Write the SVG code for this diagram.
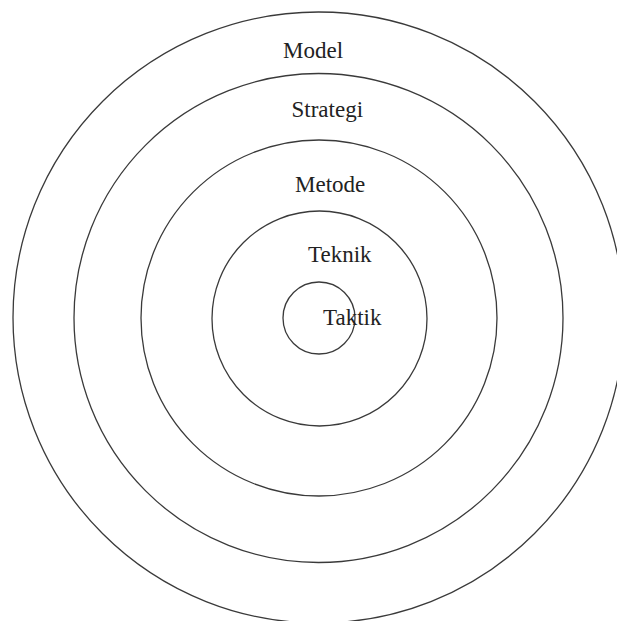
<svg xmlns="http://www.w3.org/2000/svg" width="617" height="621" viewBox="0 0 617 621">
<style>
.ring{fill:none;stroke:#3a3a3a;stroke-width:1.3}
.lbl{font-family:"Liberation Serif","Times New Roman",serif;font-size:23px;fill:#222}
</style>
<rect width="617" height="621" fill="#fff"/>
<g id="model"><circle class="ring" cx="318.5" cy="317.5" r="305.5"/><text class="lbl" x="283" y="58">Model</text></g>
<g id="strategi"><circle class="ring" cx="318.5" cy="318" r="244.5"/><text class="lbl" x="291.5" y="116.5">Strategi</text></g>
<g id="metode"><circle class="ring" cx="319" cy="318" r="178"/><text class="lbl" x="295" y="191.5">Metode</text></g>
<g id="teknik"><circle class="ring" cx="319.5" cy="318.5" r="107.5"/><text class="lbl" x="308" y="261.5">Teknik</text></g>
<g id="taktik"><circle class="ring" cx="319" cy="318" r="36"/><text class="lbl" x="323" y="325">Taktik</text></g>
<g id="connectors"/>
</svg>
